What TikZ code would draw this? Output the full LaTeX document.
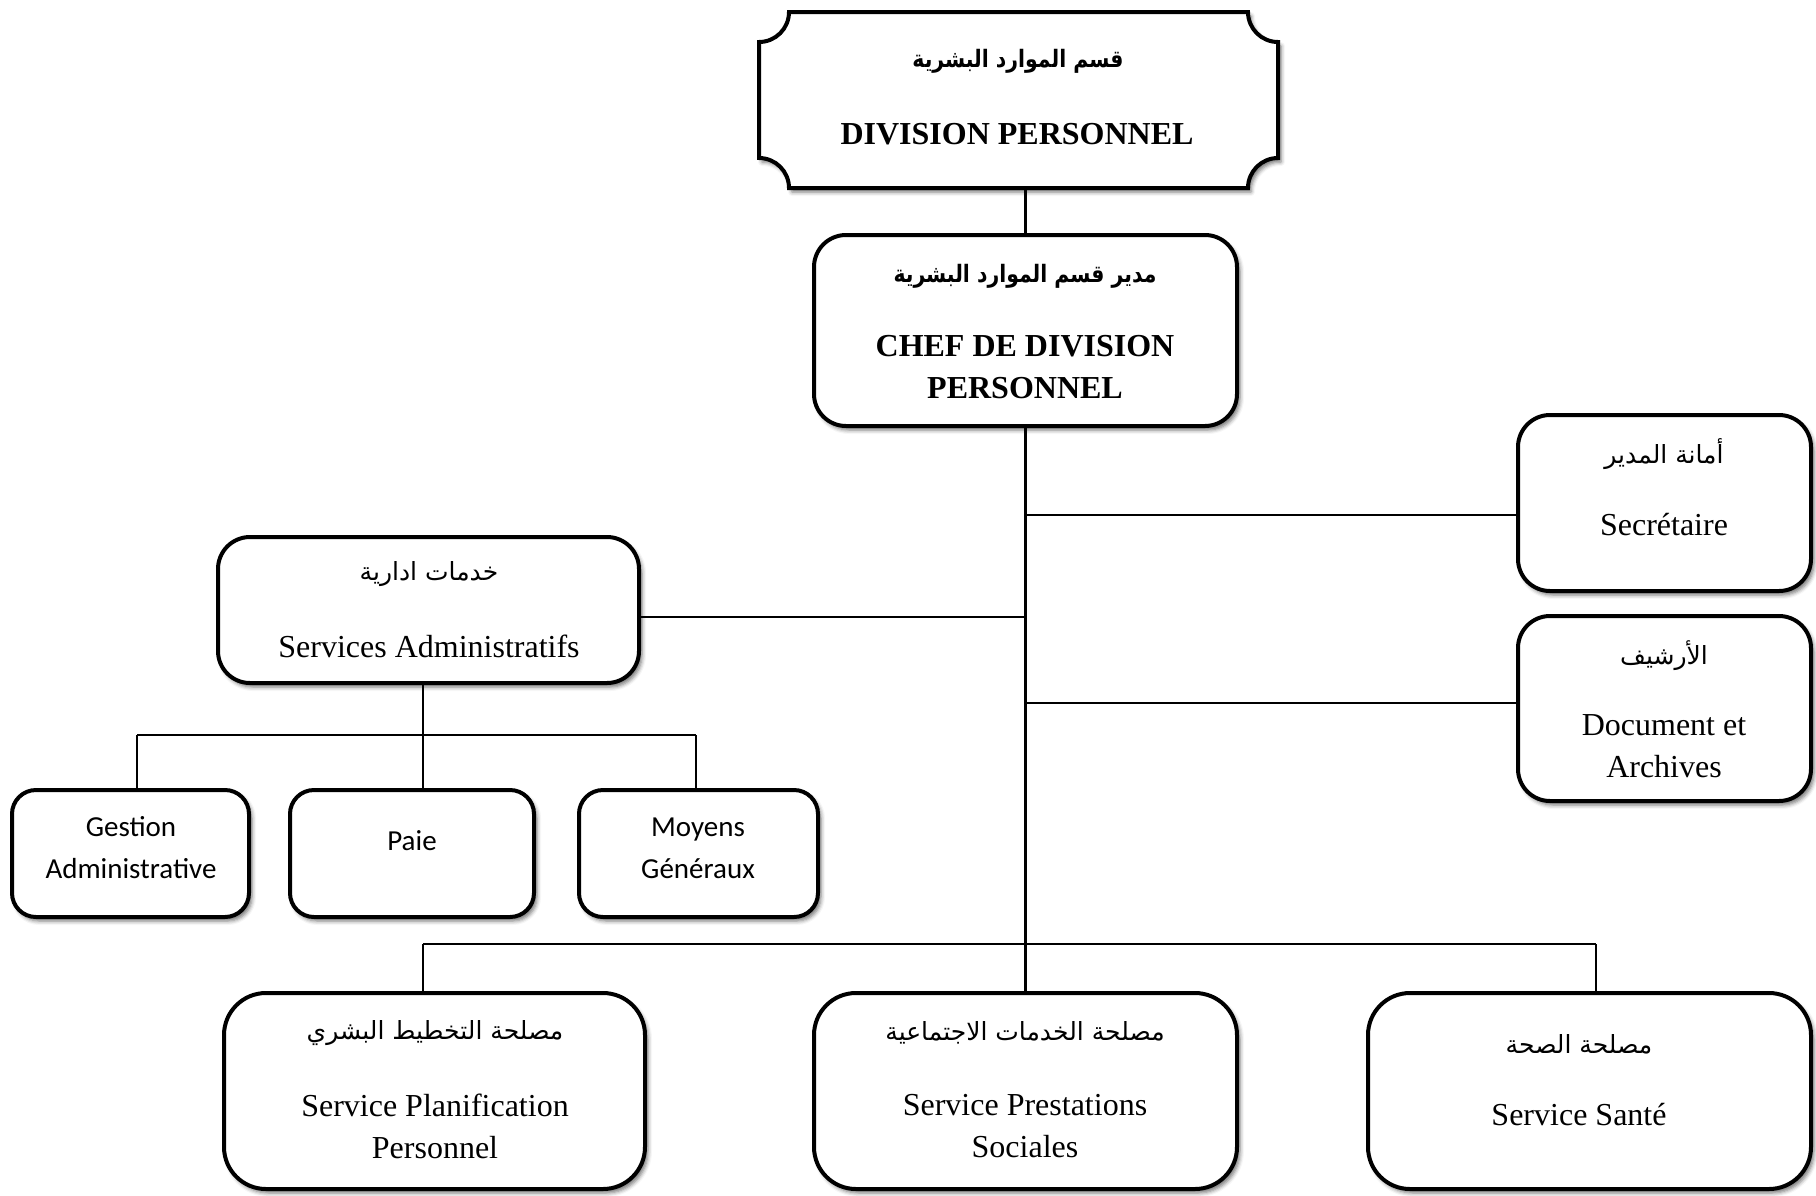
\documentclass[tikz,border=0pt]{standalone}
\usepackage{fontspec}
\usepackage{graphicx}
\setmainfont{Liberation Serif}
\newfontfamily\arabicfont[Script=Arabic]{DejaVu Sans}
\newfontfamily\calib{Carlito}
\TeXXeTstate=1
\usetikzlibrary{shadows.blur}
% condensed bold Arabic heading
\newcommand{\arhead}[1]{\scalebox{0.85}[1]{\beginR #1\endR}}

\begin{document}
\begin{tikzpicture}[x=1pt,y=-1pt,
  softshadow/.style={blur shadow={shadow xshift=3pt,shadow yshift=-4pt,shadow blur radius=4pt,shadow opacity=55}},
  box/.style={draw,line width=4pt,fill=white,rounded corners=32pt,inner sep=0pt,softshadow},
  smallbox/.style={box,rounded corners=24pt},
  bigbox/.style={box,rounded corners=42pt},
  link/.style={line width=2.2pt},
  fr/.style={align=center,inner sep=0pt,font=\fontsize{32}{42}\selectfont},
  frb/.style={fr,font=\fontsize{32}{42}\selectfont\bfseries},
  ar/.style={inner sep=0pt,font=\arabicfont\fontsize{25}{29}\selectfont},
  arb/.style={inner sep=0pt,font=\arabicfont\bfseries\fontsize{24}{28}\selectfont},
  sm/.style={align=center,inner sep=0pt,font=\calib\fontsize{29}{42}\selectfont}
]
\useasboundingbox (0,0) rectangle (1816,1195);

% top plaque with concave corners
\path[draw,line width=4pt,fill=white,softshadow]
  (789,12) -- (1248,12) arc[start angle=180,end angle=90,radius=30]
  -- (1278,158) arc[start angle=270,end angle=180,radius=30]
  -- (789,188) arc[start angle=360,end angle=270,radius=30]
  -- (759,42) arc[start angle=90,end angle=0,radius=30] -- cycle;
\node[minimum width=519pt,minimum height=176pt,inner sep=0pt] (plaque) at (1018.5,100) {};

% boxes
\node[box,minimum width=423pt,minimum height=191pt] (chef)  at (1025.5,330.5) {};
\node[box,minimum width=293pt,minimum height=176pt] (sec)   at (1664.5,503) {};
\node[box,minimum width=293pt,minimum height=185pt] (arch)  at (1664.5,708.5) {};
\node[box,minimum width=421pt,minimum height=146pt] (admin) at (428.5,610) {};
\node[smallbox,minimum width=237pt,minimum height=127pt] (gest) at (130.5,853.5) {};
\node[smallbox,minimum width=244pt,minimum height=127pt] (paie) at (412,853.5) {};
\node[smallbox,minimum width=239pt,minimum height=127pt] (moy)  at (698.5,853.5) {};
\node[bigbox,minimum width=421pt,minimum height=196pt] (plan)  at (434.5,1091) {};
\node[bigbox,minimum width=423pt,minimum height=196pt] (prest) at (1025.5,1091) {};
\node[bigbox,minimum width=443pt,minimum height=196pt] (sante) at (1589.5,1091) {};

% connectors
\draw[link] (chef.north) -- (chef.north |- plaque.south);
\draw[link] (chef.south) -- (prest.north);
\coordinate (jsec) at (1025,515);
\coordinate (jarch) at (1025,703);
\coordinate (jadmin) at (1025,617);
\draw[link] (jsec) -- (jsec -| sec.west);
\draw[link] (jarch) -- (jarch -| arch.west);
\draw[link] (jadmin) -- (jadmin -| admin.east);

\coordinate (bg) at (137,735);
\coordinate (bp) at (423,735);
\coordinate (bm) at (696,735);
\draw[link] (bp |- admin.south) -- (bp);
\draw[link] (bg) -- (bm);
\draw[link] (bg) -- (bg |- gest.north);
\draw[link] (bp) -- (bp |- paie.north);
\draw[link] (bm) -- (bm |- moy.north);

\coordinate (bl) at (423,944);
\coordinate (br) at (1596,944);
\draw[link] (bl) -- (br);
\draw[link] (bl) -- (bl |- plan.north);
\draw[link] (br) -- (br |- sante.north);

% labels
\node[arb] (plaque-ar) at (1018,61) {\arhead{قسم الموارد البشرية}};
\node[frb] (plaque-fr) at (1017,134) {DIVISION PERSONNEL};

\node[arb] (chef-ar) at (1025,276) {\arhead{مدير قسم الموارد البشرية}};
\node[frb] (chef-fr) at (1025,367) {CHEF DE DIVISION\\PERSONNEL};

\node[ar] (sec-ar) at (1664,454) {\beginR أمانة المدير\endR};
\node[fr] (sec-fr) at (1664,525) {Secrétaire};

\node[ar] (arch-ar) at (1664,656) {\beginR الأرشيف\endR};
\node[fr] (arch-fr) at (1664,746.5) {Document et\\Archives};

\node[ar] (admin-ar) at (429,574) {\beginR خدمات ادارية\endR};
\node[fr] (admin-fr) at (429,646) {Services Administratifs};

\node[sm] (gest-t) at (131,848) {Gestion\\Administrative};
\node[sm] (paie-t) at (412,841) {Paie};
\node[sm] (moy-t)  at (698,848) {Moyens\\Généraux};

\node[ar] (plan-ar) at (435,1033) {\beginR مصلحة التخطيط البشري\endR};
\node[fr] (plan-fr) at (435,1126.5) {Service Planification\\Personnel};

\node[ar] (prest-ar) at (1025,1033) {\beginR مصلحة الخدمات الاجتماعية\endR};
\node[fr] (prest-fr) at (1025,1126.5) {Service Prestations\\Sociales};

\node[ar] (sante-ar) at (1579,1044) {\beginR مصلحة الصحة\endR};
\node[fr] (sante-fr) at (1579,1115) {Service Santé};
\end{tikzpicture}
\end{document}
